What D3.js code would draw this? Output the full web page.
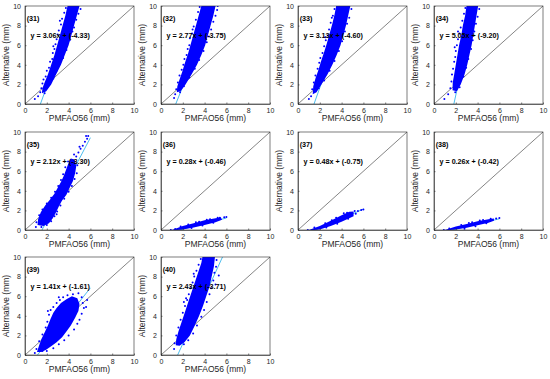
<!DOCTYPE html>
<html>
<head>
<meta charset="utf-8">
<script src="https://cdn.jsdelivr.net/npm/d3@7"></script>
<style>
  body { margin: 0; background: #fff; }
  svg { display: block; font-family: "Liberation Sans", Arial, sans-serif; }
  .tick text { fill: #262626; font-size: 7px; }
  .domain, .tick line { stroke: #262626; stroke-width: 0.6; }
</style>
</head>
<body>
<svg id="chart" width="550" height="379"></svg>
<script>
// panel ids and regression coefficients (as printed in each panel)
const panelIds   = ["31", "32", "33", "34", "35", "36", "37", "38", "39", "40"];
const slopes     = [3.06, 2.77, 3.13, 5.05, 2.12, 0.28, 0.48, 0.26, 1.41, 2.43];
const intercepts = [-4.33, -3.75, -4.60, -9.20, -3.30, -0.46, -0.75, -0.42, -1.61, -3.71];
const ticks = [0, 2, 4, 6, 8, 10];

// dense core of each point cloud (outline, x = PMFAO56, y = Alternative)
const cores = [
  [[1.55,1.1],[1.6,1.6],[1.8,2.2],[2.1,3.0],[2.4,4.0],[2.7,5.0],[2.95,6.0],[3.2,7.0],[3.45,8.0],[3.7,9.0],[3.9,10],[5.0,10],[4.75,9.0],[4.5,8.0],[4.25,7.0],[4.0,6.0],[3.65,5.0],[3.3,4.0],[2.85,3.0],[2.4,2.0],[1.95,1.3]],
  [[1.45,1.2],[1.5,1.8],[1.7,2.5],[1.95,3.3],[2.2,4.2],[2.5,5.2],[2.75,6.2],[3.0,7.2],[3.25,8.2],[3.5,9.2],[3.7,10],[5.0,10],[4.8,9.0],[4.55,8.0],[4.3,7.0],[4.05,6.0],[3.7,5.0],[3.3,4.0],[2.8,3.0],[2.25,2.0],[1.8,1.3]],
  [[1.35,1.0],[1.4,1.8],[1.6,2.6],[1.85,3.4],[2.1,4.3],[2.4,5.3],[2.65,6.2],[2.9,7.2],[3.15,8.2],[3.35,9.1],[3.5,10],[4.8,10],[4.6,9.0],[4.4,8.0],[4.15,7.0],[3.9,6.0],[3.55,5.0],[3.15,4.0],[2.7,3.0],[2.15,2.0],[1.7,1.2]],
  [[1.7,1.4],[1.72,2.2],[1.85,3.0],[2.0,4.0],[2.15,5.0],[2.3,6.0],[2.5,7.0],[2.65,8.0],[2.85,9.0],[2.98,10],[4.05,10],[3.9,9.0],[3.75,8.0],[3.6,7.0],[3.45,6.0],[3.25,5.0],[3.05,4.0],[2.8,3.0],[2.45,2.0],[2.1,1.3]],
  [[1.15,0.5],[1.2,1.1],[1.45,1.8],[1.85,2.5],[2.3,3.1],[2.7,3.7],[3.0,4.3],[3.3,4.9],[3.55,5.5],[3.75,6.1],[3.95,6.7],[4.2,7.3],[4.55,7.2],[4.7,6.5],[4.6,5.8],[4.4,5.0],[4.1,4.3],[3.8,3.6],[3.4,3.0],[3.1,2.4],[2.85,1.8],[2.55,1.2],[2.2,0.7],[1.7,0.4]],
  [[1.0,0.0],[1.5,0.2],[2.0,0.4],[3.0,0.7],[4.0,1.0],[5.0,1.2],[5.5,1.28],[5.6,1.05],[5.0,0.8],[4.0,0.5],[3.0,0.25],[2.0,0.05],[1.5,0.0]],
  [[1.0,0.0],[2.0,0.4],[3.0,0.95],[4.0,1.5],[4.7,1.85],[5.1,1.9],[5.1,1.4],[4.0,0.85],[3.0,0.4],[2.0,0.05],[1.5,0.0]],
  [[1.0,0.0],[2.0,0.35],[3.0,0.62],[4.0,0.9],[5.0,1.1],[5.5,1.18],[5.5,0.95],[5.0,0.75],[4.0,0.48],[3.0,0.22],[2.0,0.04],[1.5,0.0]],
  [[1.1,0.3],[1.3,1.0],[1.5,1.6],[1.8,2.3],[2.1,3.0],[2.35,3.7],[2.6,4.3],[2.9,4.8],[3.3,5.3],[3.8,5.7],[4.3,6.0],[4.8,5.8],[5.0,5.2],[4.9,4.5],[4.6,3.8],[4.2,3.0],[3.8,2.4],[3.4,1.8],[2.9,1.3],[2.4,0.9],[1.9,0.5],[1.5,0.3]],
  [[1.35,1.0],[1.4,1.6],[1.6,2.4],[1.9,3.4],[2.2,4.4],[2.5,5.4],[2.8,6.4],[3.1,7.4],[3.4,8.4],[3.7,9.4],[3.8,10],[4.95,10],[4.85,9.0],[4.65,8.0],[4.45,7.0],[4.15,6.0],[3.85,5.0],[3.5,4.0],[3.1,3.0],[2.65,2.0],[2.15,1.3],[1.7,0.95]]
];

// loose points around the cores
const loose = [
  [[0.9,0.5],[1.2,0.8],[1.4,1.2],[1.5,1.6],[1.6,2.1],[1.7,2.5],[1.9,2.8],[2.0,3.4],[2.2,3.7],[2.3,4.3],[2.5,4.6],[2.55,5.2],[2.7,5.6],[2.8,6.1],[2.9,6.6],[3.0,7.1],[3.1,7.5],[3.3,8.1],[3.4,8.7],[3.6,9.3],[3.75,9.8],[5.1,9.7],[4.9,9.2],[4.7,8.6],[4.5,7.8],[4.35,7.4],[4.1,6.5],[3.8,5.5],[3.5,4.7],[3.2,4.1],[2.9,3.4],[2.6,2.6],[2.1,1.8],[1.8,1.1],[2.6,5.9],[3.2,8.5]],
  [[1.2,0.6],[1.3,1.0],[1.4,1.5],[1.55,2.2],[1.7,2.9],[1.9,3.5],[2.05,4.0],[2.15,4.6],[2.35,5.0],[2.45,5.6],[2.6,6.0],[2.65,6.7],[2.85,7.2],[3.0,7.9],[3.2,8.6],[3.4,9.4],[3.55,9.9],[5.15,9.6],[5.0,9.0],[4.8,8.4],[4.6,7.6],[4.4,6.9],[4.2,6.3],[3.9,5.4],[3.5,4.5],[3.1,3.6],[2.6,2.7],[2.1,1.8],[1.75,1.2],[2.9,7.6],[5.2,10]],
  [[1.0,0.5],[1.2,0.8],[1.3,1.5],[1.45,2.2],[1.6,2.9],[1.8,3.6],[1.95,4.2],[2.05,4.7],[2.25,5.2],[2.4,5.9],[2.55,6.5],[2.75,7.0],[2.85,7.6],[3.0,8.3],[3.2,9.0],[3.35,9.7],[4.9,9.7],[4.7,8.8],[4.5,8.2],[4.3,7.4],[4.05,6.4],[3.75,5.4],[3.35,4.4],[2.9,3.4],[2.4,2.4],[1.9,1.6],[2.5,6.8],[3.1,8.8]],
  [[0.95,0.5],[1.3,1.0],[1.5,1.6],[1.6,2.3],[1.65,3.0],[1.75,3.6],[1.85,4.3],[1.95,4.8],[2.0,5.4],[2.1,6.0],[2.2,6.6],[2.35,7.2],[2.45,7.8],[2.6,8.5],[2.75,9.2],[2.88,9.8],[4.15,9.7],[4.0,8.9],[3.85,8.2],[3.7,7.4],[3.55,6.5],[3.4,5.6],[3.15,4.6],[2.95,3.7],[2.7,2.8],[2.35,1.7],[1.95,1.2],[1.9,5.8],[2.2,7.4]],
  [[1.0,0.3],[1.05,0.8],[1.3,1.5],[1.6,2.1],[2.0,2.7],[2.4,3.3],[2.75,3.9],[3.05,4.5],[3.3,5.1],[3.5,5.7],[3.7,6.4],[3.95,7.0],[4.8,6.6],[4.75,5.8],[4.55,5.2],[4.3,4.5],[4.0,3.9],[3.6,3.2],[3.25,2.5],[2.95,1.9],[2.7,1.4],[2.4,0.9],[2.0,0.5],[1.5,0.3],[4.7,7.5],[4.9,7.9],[5.1,8.3],[5.3,8.6],[5.5,9.0],[5.7,9.3],[5.8,9.6],[5.6,9.6],[4.5,7.7],[5.0,8.5],[1.4,0.6],[2.9,1.6]],
  [[0.9,0.0],[1.3,0.1],[1.8,0.35],[2.5,0.55],[3.5,0.85],[4.5,1.1],[5.2,1.25],[5.8,1.3],[6.0,1.33],[4.8,0.75],[3.8,0.45],[2.8,0.2],[5.4,1.25],[4.2,1.05],[3.2,0.8]],
  [[0.9,0.0],[1.5,0.25],[2.5,0.7],[3.5,1.25],[4.5,1.75],[5.2,1.95],[5.5,1.95],[5.8,2.05],[6.0,2.1],[4.6,1.15],[3.6,0.65],[2.6,0.25],[5.3,1.65],[4.2,1.7],[3.1,1.0]],
  [[0.9,0.0],[1.4,0.15],[2.5,0.5],[3.5,0.78],[4.5,1.02],[5.2,1.15],[5.7,1.18],[6.0,1.22],[4.8,0.68],[3.8,0.38],[2.8,0.14],[4.2,0.98],[3.2,0.72]],
  [[0.9,0.2],[1.05,0.6],[1.3,1.4],[1.6,2.1],[1.9,2.8],[2.05,3.4],[2.2,4.1],[2.35,4.6],[2.6,4.9],[2.9,5.3],[3.2,5.6],[3.5,5.9],[3.9,6.1],[4.4,6.2],[4.9,6.3],[5.2,5.9],[5.3,5.3],[5.4,4.8],[5.2,4.2],[5.0,3.6],[4.8,3.2],[4.5,2.6],[4.0,2.0],[3.6,1.5],[3.1,1.1],[2.6,0.7],[2.0,0.4],[5.7,5.6],[3.1,5.9],[2.1,4.5],[5.6,4.9],[1.6,0.4]],
  [[1.2,0.6],[1.25,1.2],[1.4,2.0],[1.6,2.8],[1.8,3.6],[2.0,4.3],[2.2,5.0],[2.4,5.6],[2.55,6.2],[2.7,6.8],[2.9,7.4],[3.05,8.0],[3.25,8.6],[3.45,9.2],[3.65,9.8],[5.1,9.7],[5.05,9.0],[4.9,8.4],[4.8,7.6],[4.6,6.8],[4.45,6.2],[4.2,5.4],[3.95,4.6],[3.7,3.9],[3.3,3.0],[2.95,2.2],[2.5,1.5],[2.1,1.1],[2.3,5.8],[2.1,5.4],[5.0,7.2],[3.0,8.3],[5.3,8.1]]
];

const fitRange = [1, 6];   // x span of the fitted line

const svg = d3.select("#chart");
const colX = [25, 161, 298, 434];
const rowY = [6, 132, 257];
const pw = 109, ph = 98;

panelIds.forEach(function(id, i) {
    let left = colX[i % 4], top = rowY[Math.floor(i / 4)];
    let x = d3.scaleLinear().domain([0, 10]).range([0, pw]);
    let y = d3.scaleLinear().domain([0, 10]).range([ph, 0]);
    let g = svg.append("g").attr("transform", `translate(${left},${top})`);

    g.append("clipPath").attr("id", "clip" + id)
        .append("rect").attr("width", pw).attr("height", ph);

    // 1:1 line
    g.append("line")
        .attr("x1", x(0)).attr("y1", y(0)).attr("x2", x(10)).attr("y2", y(10))
        .attr("stroke", "#333").attr("stroke-width", 0.6);

    let plot = g.append("g").attr("clip-path", `url(#clip${id})`);
    // fitted line goes under the points
    plot.append("line")
        .attr("x1", x(fitRange[0])).attr("y1", y(slopes[i] * fitRange[0] + intercepts[i]))
        .attr("x2", x(fitRange[1])).attr("y2", y(slopes[i] * fitRange[1] + intercepts[i]))
        .attr("stroke", "#4dbeee").attr("stroke-width", 1);
    plot.append("path")
        .datum(cores[i])
        .attr("d", d3.line().x(d => x(d[0])).y(d => y(d[1])).curve(d3.curveLinearClosed))
        .attr("fill", "#0000ff");
    plot.selectAll("circle").data(loose[i]).enter()
        .append("circle")
        .attr("cx", d => x(d[0])).attr("cy", d => y(d[1])).attr("r", 1)
        .attr("fill", "#0000ff");

    // axes, ticks pointing in
    g.append("g").attr("transform", `translate(0,${ph})`)
        .call(d3.axisBottom(x).tickValues(ticks).tickSizeInner(-1.5).tickSizeOuter(0).tickPadding(4));
    g.append("g")
        .call(d3.axisLeft(y).tickValues(ticks).tickSizeInner(-1.5).tickSizeOuter(0).tickPadding(4));
    g.append("rect").attr("width", pw).attr("height", ph)
        .attr("fill", "none").attr("stroke", "#262626").attr("stroke-width", 0.6);

    g.append("text").attr("x", x(0.15)).attr("y", y(8.45))
        .attr("font-size", 7.2).attr("font-weight", "bold").attr("fill", "#000")
        .text(`(${id})`);
    g.append("text").attr("x", x(0.5)).attr("y", y(6.75))
        .attr("font-size", 7.2).attr("font-weight", "bold").attr("fill", "#000")
        .text(`y = ${slopes[i].toFixed(2)}x + (${intercepts[i].toFixed(2)})`);

    g.append("text").attr("x", pw / 2).attr("y", ph + 16.5)
        .attr("text-anchor", "middle").attr("font-size", 8.5).attr("fill", "#262626")
        .text("PMFAO56 (mm)");
    g.append("text").attr("transform", `translate(-16,${ph / 2}) rotate(-90)`)
        .attr("text-anchor", "middle").attr("font-size", 8.5).attr("fill", "#262626")
        .text("Alternative (mm)");
});
</script>
</body>
</html>
